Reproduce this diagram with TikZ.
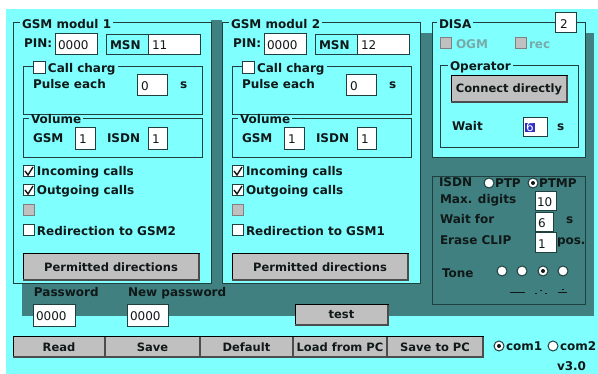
\documentclass[tikz,border=0pt]{standalone}
\usepackage{fontspec}
\setmainfont{DejaVu Sans}
\usepackage{xcolor}
\usepackage{tikz}
\usetikzlibrary{positioning}
\definecolor{cyanbg}{RGB}{128,255,255}
\definecolor{tealbg}{RGB}{64,128,128}
\definecolor{framec}{RGB}{32,64,64}
\definecolor{txt}{RGB}{16,24,24}
\definecolor{btngray}{RGB}{192,192,192}
\definecolor{dimtxt}{RGB}{120,170,170}
\definecolor{selblue}{RGB}{48,48,200}

\begin{document}
\begin{tikzpicture}[x=1pt,y=-1pt,
	every node/.style={inner sep=0,outer sep=0},
	lbl/.style={anchor=base west,font=\fontsize{12}{14}\selectfont\bfseries,text=txt},
	val/.style={anchor=base west,font=\fontsize{12}{14}\selectfont,text=txt},
	ttl/.style={lbl,fill=cyanbg,inner xsep=2pt},
	grp/.style={draw=framec,line width=1pt},
	field/.style={draw=framec,fill=white,line width=1pt},
	chkbox/.style={draw=framec,fill=white,line width=1pt},
	dimbox/.style={draw=gray,fill=btngray,line width=1pt},
	tick/.style={draw=txt,line width=1.4pt},
	radio/.style={circle,draw=framec,fill=white,line width=1pt,minimum size=10pt},
	btn/.style={draw=black,fill=btngray,line width=1pt,font=\fontsize{11.5}{14}\selectfont\bfseries,text=txt,minimum height=20pt},
	shd/.style={draw=black!70,line width=1.5pt}]
	\useasboundingbox (0,0) rectangle (598,374);
	\fill[white] (0,0) rectangle (598,374);
	\fill[cyanbg] (6,9) rectangle (598,374);
	\fill[tealbg] (22,33) rectangle (594,316);
	\fill[tealbg] (211,20) rectangle (222,33);
	\foreach \m/\dx/\msn/\oth in {1/0/11/2,2/209/12/1} {
		\begin{scope}[xshift=\dx pt]
			\fill[cyanbg] (13,23) rectangle (211,284);
			\draw[grp] (13,23) rectangle (211,284);
			\node[ttl] (gsm\m) at (20,29) {GSM modul \m};
			\node[lbl] (pinlbl\m) at (24,48) {PIN:};
			\draw[field] (55,34) rectangle (97,55);
			\node[val] (pin\m) at (58,50) {0000};
			\draw[grp] (106,35) rectangle (148,55);
			\node[lbl] (msnlbl\m) at (110,50) {MSN};
			\draw[field] (148,35) rectangle (200,55);
			\node[val] (msn\m) at (152,50) {\msn};
			\draw[grp] (23,67) rectangle (202,115);
			\node[ttl] (charg\m) at (46,73) {Call charg};
			\draw[chkbox] (33,62) rectangle (45,74);
			\node[lbl] (pulse\m) at (33,89) {Pulse each};
			\draw[field] (137,75) rectangle (167,96);
			\node[val] (pulsev\m) at (141,91) {0};
			\node[lbl] (sec\m) at (180,89) {s};
			\draw[grp] (23,119) rectangle (202,158);
			\node[ttl] (vol\m) at (29,124) {Volume};
			\node[lbl] (gsmlbl\m) at (33,143) {GSM};
			\draw[field] (75,128) rectangle (95,150);
			\node[val] (gsmv\m) at (79,144) {1};
			\node[lbl] (isdnlbl\m) at (107,143) {ISDN};
			\draw[field] (148,128) rectangle (167,150);
			\node[val] (isdnv\m) at (152,144) {1};
			\draw[chkbox] (23,166) rectangle (34,177);
			\draw[tick] (25,171) -- (28,175) -- (33,167);
			\node[lbl] (inc\m) at (37,176) {Incoming calls};
			\draw[chkbox] (23,185) rectangle (34,196);
			\draw[tick] (25,190) -- (28,194) -- (33,186);
			\node[lbl] (out\m) at (37,195) {Outgoing calls};
			\draw[dimbox] (23,205) rectangle (34,216);
			\draw[chkbox] (23,225) rectangle (34,236);
			\node[lbl] (redir\m) at (37,236) {Redirection to GSM\oth};
			\node[btn,minimum width=176pt,minimum height=26pt] (perm\m) at (111,267) {Permitted directions};
		\end{scope}
	}
	\fill[cyanbg] (432,23) rectangle (585,158);
	\draw[grp] (432,23) rectangle (585,158);
	\node[ttl] (disa) at (437,29) {DISA};
	\draw[field] (555,13) rectangle (576,33);
	\node[val] (disan) at (560,29) {2};
	\draw[dimbox] (440,38) rectangle (451,49);
	\node[lbl,text=dimtxt] (ogm) at (456,49) {OGM};
	\draw[dimbox] (515,38) rectangle (526,49);
	\node[lbl,text=dimtxt] (rec) at (529,49) {rec};
	\draw[grp] (440,66) rectangle (578,148);
	\node[ttl] (oper) at (448,71) {Operator};
	\node[btn,minimum width=116pt,minimum height=26pt] (conn) at (509,89) {Connect directly};
	\node[lbl] (wait) at (452,131) {Wait};
	\draw[field] (523,118) rectangle (547,137);
	\node[val,fill=selblue,text=white,inner xsep=1pt] (waitv) at (525,132) {6};
	\node[lbl] (waits) at (557,131) {s};
	\draw[draw=framec,line width=1pt] (432,177) rectangle (585,305);
	\node[lbl,fill=tealbg,inner xsep=2pt] (isdn) at (437,187) {ISDN};
	\node[lbl,fill=tealbg,inner xsep=1pt] (ptp) at (494,188) {PTP};
	\node[lbl,fill=tealbg,inner xsep=1pt] (ptmp) at (538,188) {PTMP};
	\node[radio] (ptpr) at (489,183) {};
	\node[radio] (ptmpr) at (533,183) {};
	\fill[txt] (ptmpr) circle (2pt);
	\node[lbl] (maxd) at (440,204) {Max. digits};
	\draw[field] (535,192) rectangle (556,211);
	\node[val] (maxdv) at (537,207) {10};
	\node[lbl] (waitfor) at (440,224) {Wait for};
	\draw[field] (535,213) rectangle (553,232);
	\node[val] (waitforv) at (538,228) {6};
	\node[lbl] (waitfors) at (566,224) {s};
	\node[lbl] (erase) at (440,245) {Erase CLIP};
	\draw[field] (535,233) rectangle (556,253);
	\node[val] (erasev) at (538,249) {1};
	\node[lbl] (pos) at (557,245) {pos.};
	\node[lbl] (tone) at (442,278) {Tone};
	\foreach \i/\tx in {1/502,2/522,3/543,4/563}
		\node[radio] (tone\i) at (\tx,271) {};
	\fill[txt] (tone3) circle (2pt);
	\draw[txt,line width=1pt] (510,293) -- (525,293);
	\draw[txt,line width=1pt] (535,294) -- (537,294) (540,291) -- (542,291) (545,294) -- (547,294);
	\draw[txt,line width=1pt] (558,293) -- (567,293) (562,290) -- (564,290);
	\node[lbl] (pwd) at (34,297) {Password};
	\node[lbl] (newpwd) at (128,297) {New password};
	\draw[field] (33,305) rectangle (75,327);
	\node[val] (pwdv) at (36,321) {0000};
	\draw[field] (127,305) rectangle (168,327);
	\node[val] (newpwdv) at (130,321) {0000};
	\node[btn,minimum width=93pt] (test) at (341.5,315) {test};
	\node[btn,minimum width=92pt] (read) at (59,347) {Read};
	\node[btn,minimum width=95pt] (save) at (152.5,347) {Save};
	\node[btn,minimum width=93pt] (deflt) at (246.5,347) {Default};
	\node[btn,minimum width=94pt] (load) at (340,347) {Load from PC};
	\node[btn,minimum width=96pt] (savepc) at (435,347) {Save to PC};
	\foreach \b in {perm1,perm2,conn,test,read,save,deflt,load,savepc}
		\draw[shd] (\b.south west) -- (\b.south east) -- (\b.north east);
	\node[radio] (com1r) at (499,346) {};
	\fill[txt] (com1r) circle (2pt);
	\node[lbl] (com1) at (506,351) {com1};
	\node[radio] (com2r) at (553,346) {};
	\node[lbl] (com2) at (560,351) {com2};
	\node[lbl] (ver) at (557,371) {v3.0};
\end{tikzpicture}
\end{document}
